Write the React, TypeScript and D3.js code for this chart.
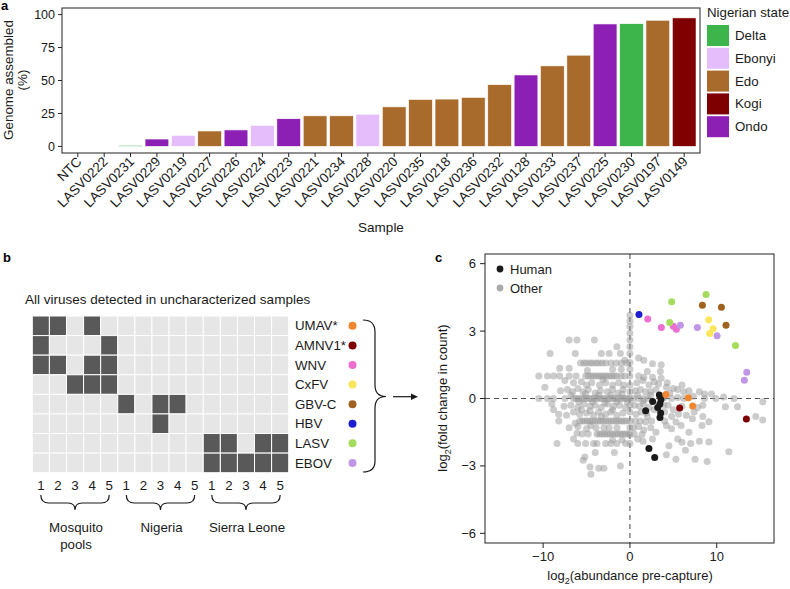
import { useEffect, useRef } from 'react'
import * as d3 from 'd3'

// ---- panel a: genome assembly per sample ----
const samples = ['NTC', 'LASV0222', 'LASV0231', 'LASV0229', 'LASV0219', 'LASV0227', 'LASV0226', 'LASV0224', 'LASV0223', 'LASV0221', 'LASV0234', 'LASV0228', 'LASV0220', 'LASV0235', 'LASV0218', 'LASV0236', 'LASV0232', 'LASV0128', 'LASV0233', 'LASV0237', 'LASV0225', 'LASV0230', 'LASV0197', 'LASV0149']
const assembled = [0, 0, 0.8, 5.6, 8.4, 11.7, 12.5, 16, 21, 23.2, 23.2, 24.4, 30, 35.6, 35.9, 37.2, 46.8, 54.2, 61.1, 69.2, 92.9, 93.1, 95.7, 97.5]
const sampleState = ['', 'Edo', 'Delta', 'Ondo', 'Ebonyi', 'Edo', 'Ondo', 'Ebonyi', 'Ondo', 'Edo', 'Edo', 'Ebonyi', 'Edo', 'Edo', 'Edo', 'Edo', 'Edo', 'Ondo', 'Edo', 'Edo', 'Ondo', 'Delta', 'Edo', 'Kogi']
const states = ['Delta', 'Ebonyi', 'Edo', 'Kogi', 'Ondo']
const stateColors = ['#3db54a', '#e5bdfb', '#a86b2c', '#7e0000', '#8c20b4']
const yTicksA = [0, 25, 50, 75, 100]

// ---- panel b: detection matrix ----
const viruses = ['UMAV*', 'AMNV1*', 'WNV', 'CxFV', 'GBV-C', 'HBV', 'LASV', 'EBOV']
const virusColors = ['#f0862f', '#7f0000', '#ec6fcf', '#fde65b', '#a0621f', '#1c1cd1', '#a6dc5c', '#c097e6']
const groups = ['Mosquito pools', 'Nigeria', 'Sierra Leone']
const groupLines = [['Mosquito', 'pools'], ['Nigeria'], ['Sierra Leone']]
const columnLabels = ['1', '2', '3', '4', '5']
const detected = [
  [1, 1, 0, 1, 0, 0, 0, 0, 0, 0, 0, 0, 0, 0, 0],
  [1, 0, 0, 0, 1, 0, 0, 0, 0, 0, 0, 0, 0, 0, 0],
  [1, 1, 0, 1, 1, 0, 0, 0, 0, 0, 0, 0, 0, 0, 0],
  [0, 0, 1, 1, 1, 0, 0, 0, 0, 0, 0, 0, 0, 0, 0],
  [0, 0, 0, 0, 0, 1, 0, 1, 1, 0, 0, 0, 0, 0, 0],
  [0, 0, 0, 0, 0, 0, 0, 1, 0, 0, 0, 0, 0, 0, 0],
  [0, 0, 0, 0, 0, 0, 0, 0, 0, 0, 1, 1, 0, 1, 1],
  [0, 0, 0, 0, 0, 0, 0, 0, 0, 0, 1, 1, 1, 1, 1],
]

// ---- panel c: abundance vs fold change ----
const otherPoints: [number, number][] = [
  // on x = 0
  [0, 3.7], [0, 3.45], [0, 3.2], [0, 2.9], [0, 2.6], [0, 2.3], [0, 2.0], [0, 1.6], [0, 1.3], [0, 1.0], [0, 0.6], [0, 0.3], [0, 0], [0, -0.3], [0, -0.6], [0, -1.0], [0, -1.3], [0, -1.6], [0, -2.0],
  // upper
  [-7.0, 2.6], [-6.1, 2.6], [-4.1, 2.6], [-9.2, 2.0], [-6.3, 2.0], [-3.3, 2.0], [-2.4, 2.0], [-1.5, 2.3], [-1.1, 2.0], [1.0, 1.8], [1.6, 1.7], [3.6, 1.5], [-0.6, 1.7], [2.6, 1.55],
  [-5.7, 1.58], [-5.3, 1.58], [-5.0, 1.58], [-4.6, 1.58], [-4.3, 1.58], [-3.9, 1.58], [-3.6, 1.58], [-3.2, 1.58], [-2.8, 1.58], [-2.2, 1.58], [-1.6, 1.58], [-1.0, 1.58], [-0.4, 1.58],
  [-8.1, 1.35], [-7.0, 1.35], [-2.0, 1.3], [-1.0, 1.3], [-4.9, 1.25], [2.0, 1.2], [3.5, 1.2],
  [-10.5, 1], [-9.5, 1], [-8.8, 1], [-8.1, 1], [-7.0, 1], [-6.2, 1], [-5.1, 1], [-4.8, 1], [-4.5, 1], [-4.2, 1], [-3.9, 1], [-3.6, 1], [-3.3, 1], [-3.0, 1], [-2.7, 1], [-2.4, 1], [-2.1, 1], [-1.8, 1], [-1.5, 1], [-1.0, 1], [-0.6, 1], [1.0, 1], [1.6, 0.95], [2.6, 0.95], [3.6, 0.9],
  [-7.5, 0.8], [-6.5, 0.7], [-5.6, 0.75], [-5.0, 0.6], [-4.4, 0.7], [-3.5, 0.6], [-3.1, 0.85], [-2.8, 0.7], [-2.0, 0.6], [-1.3, 0.7], [-0.7, 0.6], [0.8, 0.7], [1.5, 0.8], [2.2, 0.6], [2.8, 0.75], [3.3, 0.65], [4.2, 0.5], [4.3, 0.7], [5.0, 0.45], [5.5, 0.4], [6.0, 0.6],
  [-9.8, 0.5], [-8.0, 0.35], [-7.2, 0.4], [-6.6, 0.3], [-6.0, 0.45], [-5.4, 0.3], [-4.8, 0.4], [-4.0, 0.25], [-3.4, 0.35], [-2.6, 0.3], [-2.0, 0.4], [-1.4, 0.25], [-0.8, 0.4], [0.6, 0.35], [1.2, 0.4], [1.8, 0.3], [2.4, 0.3], [3.0, 0.4], [4.6, 0.25], [6.2, 0.3], [6.8, 0.35], [8.0, 0.3], [8.6, 0.2], [9.4, 0.2],
  [-6.8, 0.15], [-5.9, -0.15], [-5.1, 0.2], [-4.3, -0.15], [-3.6, 0.15], [-2.9, -0.2], [-2.2, 0.15], [-1.5, -0.15], [-0.9, 0.2], [-0.3, -0.15], [0.9, 0.15], [1.5, -0.1], [2.4, 0.15], [4.0, 0.05], [7.3, 0.1],
  // stripe at 0
  [-10.5, 0], [-9.5, 0], [-8.8, 0], [-7.5, 0], [-6.5, 0], [-6.2, 0], [-5.9, 0], [-5.6, 0], [-5.3, 0], [-5.0, 0], [-4.7, 0], [-4.4, 0], [-4.1, 0], [-3.8, 0], [-3.5, 0], [-3.2, 0], [-2.9, 0], [-2.6, 0], [-2.3, 0], [-2.0, 0], [-1.7, 0], [-1.4, 0], [-1.1, 0], [-0.8, 0], [-0.5, 0], [-0.2, 0], [0.4, 0], [1.0, 0], [1.6, 0], [2.1, 0], [4.8, 0], [5.5, 0.05], [6.2, 0], [8.6, 0], [9.9, 0], [10.8, 0.07], [12.0, 0],
  [-9.0, -0.25], [-7.6, -0.35], [-6.8, -0.3], [-6.0, -0.4], [-5.3, -0.25], [-4.6, -0.35], [-4.0, -0.3], [-3.3, -0.4], [-2.6, -0.25], [-1.9, -0.35], [-1.2, -0.3], [-0.5, -0.4], [0.5, -0.3], [1.1, -0.35], [1.6, -0.25], [2.2, -0.4], [3.9, -0.3], [4.4, -0.3], [5.0, -0.5], [6.0, -0.35], [7.8, -0.4], [8.4, -0.3], [11.0, -0.37], [12.4, -0.37], [15.3, -0.15],
  [-8.8, -0.5], [-5.6, -0.5], [-4.6, -0.55], [-2.0, -0.5], [2.8, -0.5], [1.9, -0.65],
  [-8.2, -0.7], [-7.3, -0.75], [-6.5, -0.6], [-5.8, -0.7], [-5.0, -0.65], [-4.2, -0.75], [-3.6, -0.6], [-3.3, -0.8], [-2.8, -0.7], [-2.2, -0.6], [-1.5, -0.75], [-0.8, -0.65], [0.7, -0.7], [1.3, -0.6], [2.0, -0.8], [4.0, -0.6], [4.8, -0.8], [5.6, -0.7], [6.5, -0.75], [7.4, -0.6], [7.2, -0.9], [8.4, -0.8], [14.5, -0.8],
  // stripe at -1
  [-8.2, -1], [-5.8, -1], [-5.5, -1], [-5.2, -1], [-4.9, -1], [-4.6, -1], [-4.3, -1], [-4.0, -1], [-3.7, -1], [-3.4, -1], [-3.1, -1], [-2.8, -1], [-2.5, -1], [-2.2, -1], [-1.9, -1], [-1.6, -1], [-1.3, -1], [-1.0, -1], [-0.7, -1], [-0.4, -1], [0.6, -1], [1.2, -1], [1.8, -1.05], [2.5, -1], [4.0, -1], [5.3, -1.05], [9.1, -1.04], [15.3, -0.96],
  [-7.0, -1.3], [-6.3, -1.1], [-6.0, -1.25], [-5.0, -1.35], [-4.5, -1.2], [-3.9, -1.3], [-3.0, -1.3], [-2.4, -1.3], [-1.5, -1.3], [0.4, -1.3], [1.0, -1.25], [1.6, -1.4], [2.4, -1.3], [4.2, -1.2], [4.8, -1.35], [5.9, -1.2], [8.3, -1.2],
  // stripe at -1.58
  [-6.1, -1.55], [-5.5, -1.58], [-4.8, -1.58], [-3.8, -1.58], [-3.5, -1.58], [-3.2, -1.58], [-2.9, -1.58], [-2.6, -1.58], [-2.3, -1.58], [-2.0, -1.58], [-1.7, -1.58], [-1.4, -1.58], [-1.1, -1.58], [-0.8, -1.58], [-0.5, -1.58], [-0.2, -1.58], [0.5, -1.58], [1.4, -1.6], [3.0, -1.5], [6.8, -1.5],
  [-6.5, -1.8], [-2.0, -1.85], [-0.9, -1.85], [0.9, -1.8], [1.5, -1.9], [2.6, -1.8], [5.5, -1.8], [6.0, -1.95],
  [-8.4, -2.0], [-6.0, -2.0], [-5.1, -2.0], [-4.2, -2.0], [-3.8, -2.0], [-2.8, -2.0], [-2.2, -2.0], [-1.5, -2.0], [-0.5, -2.0], [7.0, -2.0], [8.0, -1.9], [9.1, -1.94], [4.5, -2.1],
  // lower
  [-5.2, -2.6], [-5.4, -2.75], [-4.0, -2.4], [-1.8, -2.4], [-3.6, -3.1], [-3.0, -3.1], [-4.5, -3.37], [-4.6, -3.05], [-1.1, -3.0], [5.3, -2.7], [6.4, -2.3], [7.5, -2.7], [8.9, -2.8], [11.4, -2.37], [4.2, -2.5],
]
const humanPoints: [number, number][] = [[3.39, 0.16], [3.58, -0.04], [2.62, -0.13], [1.81, -0.55], [3.2, -0.4], [3.54, -0.64], [3.46, -0.85], [3.45, -0.25], [2.19, -2.23], [2.85, -2.63]]
const virusPoints: [number, number][][] = [
  [[4.15, 0.18], [6.73, 0.03], [7.23, -0.33]],
  [[5.73, -0.42], [13.42, -0.91]],
  [[2.05, 3.54], [3.62, 3.16], [5.0, 3.22], [5.35, 3.08]],
  [[9.08, 3.5], [9.58, 3.1], [9.19, 2.89]],
  [[8.35, 4.15], [10.54, 4.06], [11.07, 3.26]],
  [[1.04, 3.74]],
  [[4.81, 4.3], [4.58, 3.38], [8.77, 4.63], [12.16, 2.36]],
  [[5.81, 3.26], [7.77, 3.16], [10.04, 2.79], [13.46, 1.17], [13.19, 0.81]],
]
const xTicksC = [-10, 0, 10]
const yTicksC = [-6, -3, 0, 3, 6]

const FONT = '"Liberation Sans", Arial, Helvetica, sans-serif'

export default function App() {
  const svgRef = useRef<SVGSVGElement>(null)

  useEffect(() => {
    const svg = d3.select(svgRef.current)
    svg.selectAll('*').remove()
    svg.attr('font-family', FONT)

    const txt = (x: number, y: number, s: string, size = 13, anchor = 'start') =>
      svg.append('text').attr('x', x).attr('y', y).attr('font-size', size).attr('text-anchor', anchor).attr('fill', '#1a1a1a').text(s)

    // ================= panel a =================
    const xA = d3.scaleBand<string>().domain(samples).range([62, 700]).paddingInner(0.1).paddingOuter(0.15)
    const yA = d3.scaleLinear().domain([-5, 105]).range([153, 8])
    const stateColor = d3.scaleOrdinal<string, string>().domain(states).range(stateColors)

    svg.append('g').selectAll('rect').data(samples).join('rect')
      .attr('x', d => xA(d)!)
      .attr('width', xA.bandwidth())
      .attr('y', (d, i) => yA(assembled[i]))
      .attr('height', (d, i) => yA(0) - yA(assembled[i]))
      .attr('fill', (d, i) => sampleState[i] ? stateColor(sampleState[i]) : 'none')
      .attr('stroke', '#fff').attr('stroke-width', 0.6)

    svg.append('rect').attr('x', 62).attr('y', 8).attr('width', 638).attr('height', 145)
      .attr('fill', 'none').attr('stroke', '#222').attr('stroke-width', 1)

    yTicksA.forEach(t => {
      svg.append('line').attr('x1', 58).attr('x2', 62).attr('y1', yA(t)).attr('y2', yA(t)).attr('stroke', '#222')
      txt(55, yA(t) + 4.3, String(t), 12.5, 'end')
    })
    samples.forEach(s => {
      const cx = xA(s)! + xA.bandwidth() / 2
      svg.append('line').attr('x1', cx).attr('x2', cx).attr('y1', 153).attr('y2', 157).attr('stroke', '#222')
      svg.append('text').attr('transform', `translate(${cx + 4.5},${162.5}) rotate(-45)`)
        .attr('text-anchor', 'end').attr('font-size', 13.5).attr('fill', '#1a1a1a').text(s)
    })
    txt(381, 232, 'Sample', 13.5, 'middle')
    svg.append('text').attr('transform', 'translate(13,80) rotate(-90)').attr('text-anchor', 'middle').attr('font-size', 13.4).attr('fill', '#1a1a1a').text('Genome assembled')
    svg.append('text').attr('transform', 'translate(26.5,80) rotate(-90)').attr('text-anchor', 'middle').attr('font-size', 13.4).attr('fill', '#1a1a1a').text('(%)')

    txt(707, 17, 'Nigerian state', 13.3)
    states.forEach((s, i) => {
      const y = 25 + i * 22.8
      svg.append('rect').attr('x', 707).attr('y', y).attr('width', 22).attr('height', 21).attr('fill', stateColors[i])
      txt(735, y + 15, s, 13.3)
    })
    svg.append('text').attr('x', 1).attr('y', 10).attr('font-size', 13).attr('font-weight', 'bold').text('a')

    // ================= panel b =================
    svg.append('text').attr('x', 3).attr('y', 262).attr('font-size', 13).attr('font-weight', 'bold').text('b')
    txt(25, 304, 'All viruses detected in uncharacterized samples', 13.5)

    const xB = d3.scaleBand<number>().domain(d3.range(15)).range([32.3, 288.7])
    const yB = d3.scaleBand<string>().domain(viruses).range([316, 472.7])
    detected.forEach((row, r) => {
      row.forEach((v, c) => {
        svg.append('rect').attr('x', xB(c)!).attr('y', yB(viruses[r])!)
          .attr('width', xB.bandwidth()).attr('height', yB.bandwidth())
          .attr('fill', v ? '#595959' : '#e6e6e6').attr('stroke', '#fff').attr('stroke-width', 1)
      })
    })
    viruses.forEach((v, i) => {
      const cy = yB(v)! + yB.bandwidth() / 2
      txt(295, cy + 4.6, v, 13.3)
      svg.append('circle').attr('cx', 352.5).attr('cy', cy).attr('r', 4).attr('fill', virusColors[i])
    })
    d3.range(15).forEach(c => {
      txt(xB(c)! + xB.bandwidth() / 2, 490, columnLabels[c % 5], 13.3, 'middle')
    })
    groups.forEach((g, gi) => {
      const x1 = xB(gi * 5)! + xB.bandwidth() / 2
      const x2 = xB(gi * 5 + 4)! + xB.bandwidth() / 2
      const m = (x1 + x2) / 2
      svg.append('path')
        .attr('d', `M${x1},495 Q${x1},503 ${x1 + 8},503 L${m - 7},503 Q${m},503 ${m},510 Q${m},503 ${m + 7},503 L${x2 - 8},503 Q${x2},503 ${x2},495`)
        .attr('fill', 'none').attr('stroke', '#1a1a1a').attr('stroke-width', 1.2)
      groupLines[gi].forEach((line, li) => txt(m + 1, 532 + li * 16.5, line, 13.3, 'middle'))
    })
    // right brace + arrow
    svg.append('path')
      .attr('d', 'M363,320 Q375,320 375,332 L375,385 Q375,396.5 386,396.5 Q375,396.5 375,408 L375,461 Q375,472 363,472')
      .attr('fill', 'none').attr('stroke', '#1a1a1a').attr('stroke-width', 1.2)
    svg.append('line').attr('x1', 393).attr('x2', 413).attr('y1', 396.7).attr('y2', 396.7).attr('stroke', '#1a1a1a').attr('stroke-width', 1.2)
    svg.append('path').attr('d', 'M418,396.7 L411,393.5 L411,399.9 Z').attr('fill', '#1a1a1a')

    // ================= panel c =================
    svg.append('text').attr('x', 435).attr('y', 262).attr('font-size', 13).attr('font-weight', 'bold').text('c')
    const xC = d3.scaleLinear().domain([-16.7, 16.6]).range([485, 774])
    const yC = d3.scaleLinear().domain([-6.43, 6.43]).range([543, 254])

    svg.append('line').attr('x1', 485).attr('x2', 774).attr('y1', yC(0)).attr('y2', yC(0))
      .attr('stroke', '#555').attr('stroke-width', 1.1).attr('stroke-dasharray', '5,4')
    svg.append('line').attr('x1', xC(0)).attr('x2', xC(0)).attr('y1', 254).attr('y2', 543)
      .attr('stroke', '#555').attr('stroke-width', 1.1).attr('stroke-dasharray', '5,4')

    svg.append('g').selectAll('circle').data(otherPoints).join('circle')
      .attr('cx', d => xC(d[0])).attr('cy', d => yC(d[1])).attr('r', 3.5)
      .attr('fill', '#9a9a9a').attr('fill-opacity', 0.5)
    svg.append('g').selectAll('circle').data(humanPoints).join('circle')
      .attr('cx', d => xC(d[0])).attr('cy', d => yC(d[1])).attr('r', 3.5).attr('fill', '#1a1a1a')
    virusPoints.forEach((pts, i) => {
      svg.append('g').selectAll('circle').data(pts).join('circle')
        .attr('cx', d => xC(d[0])).attr('cy', d => yC(d[1])).attr('r', 3.5).attr('fill', virusColors[i])
    })

    svg.append('rect').attr('x', 485).attr('y', 254).attr('width', 289).attr('height', 289)
      .attr('fill', 'none').attr('stroke', '#222').attr('stroke-width', 1)

    yTicksC.forEach(t => {
      svg.append('line').attr('x1', 480).attr('x2', 485).attr('y1', yC(t)).attr('y2', yC(t)).attr('stroke', '#222')
      txt(476, yC(t) + 4.5, t < 0 ? `\u2212${-t}` : String(t), 13, 'end')
    })
    xTicksC.forEach(t => {
      svg.append('line').attr('x1', xC(t)).attr('x2', xC(t)).attr('y1', 543).attr('y2', 548).attr('stroke', '#222')
      txt(xC(t), 561, t < 0 ? `\u2212${-t}` : String(t), 13, 'middle')
    })

    const xl = svg.append('text').attr('x', 630).attr('y', 580).attr('font-size', 13).attr('text-anchor', 'middle').attr('fill', '#1a1a1a')
    xl.append('tspan').text('log')
    xl.append('tspan').attr('font-size', 9).attr('dy', 3.5).text('2')
    xl.append('tspan').attr('dy', -3.5).text('(abundance pre-capture)')

    const yl = svg.append('text').attr('transform', 'translate(447,398) rotate(-90)').attr('font-size', 13).attr('text-anchor', 'middle').attr('fill', '#1a1a1a')
    yl.append('tspan').text('log')
    yl.append('tspan').attr('font-size', 9).attr('dy', 3.5).text('2')
    yl.append('tspan').attr('dy', -3.5).text('(fold change in count)')

    svg.append('circle').attr('cx', 500).attr('cy', 269).attr('r', 3.4).attr('fill', '#1a1a1a')
    txt(510, 273.5, 'Human', 13)
    svg.append('circle').attr('cx', 500).attr('cy', 288).attr('r', 3.4).attr('fill', '#aaaaaa')
    txt(510, 292.5, 'Other', 13)
  }, [])

  return (
    <svg ref={svgRef} width={790} height={589} style={{ position: 'absolute', left: 0, top: 0, background: '#fff' }} />
  )
}
